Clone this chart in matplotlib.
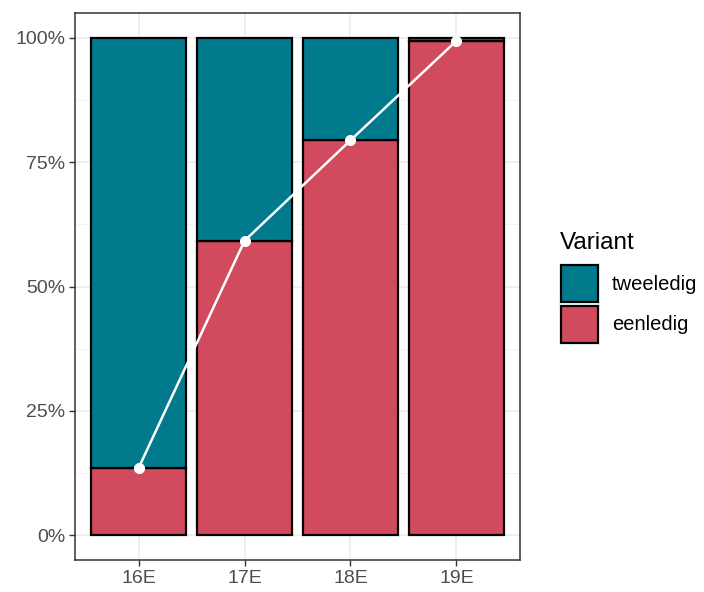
import numpy as np
import matplotlib
matplotlib.use("Agg")
import matplotlib.pyplot as plt
from matplotlib.patches import Rectangle
from matplotlib.ticker import MultipleLocator, FuncFormatter

# data
periods = ["16E", "17E", "18E", "19E"]
eenledig = [0.135, 0.592, 0.794, 0.994]
tweeledig = [1 - v for v in eenledig]

teal = "#007A8C"
red = "#D14A5E"
W, H = 704, 592

plt.rcParams["font.family"] = ["Liberation Sans", "DejaVu Sans"]

fig = plt.figure(figsize=(W / 100, H / 100), dpi=100)
ax = fig.add_axes([75 / W, 32 / H, 445 / W, 547 / H])

x = np.arange(1, len(periods) + 1)
ax.bar(x, eenledig, width=0.9, color=red, edgecolor="black", linewidth=1.6, zorder=3)
ax.bar(x, tweeledig, width=0.9, bottom=eenledig, color=teal, edgecolor="black",
       linewidth=1.6, zorder=3)
ax.plot(x, eenledig, color="white", linewidth=1.8, marker="o", markersize=7,
        zorder=4)

ax.set_xlim(0.4, 4.6)
ax.set_ylim(-0.05, 1.05)
ax.set_xticks(x)
ax.set_xticklabels(periods)
ax.yaxis.set_major_locator(MultipleLocator(0.25))
ax.yaxis.set_minor_locator(MultipleLocator(0.125))
ax.yaxis.set_major_formatter(FuncFormatter(lambda v, p: f"{v * 100:.0f}%"))

ax.grid(True, which="major", color="#EBEBEB", linewidth=1.1, zorder=0)
ax.grid(True, which="minor", axis="y", color="#F3F3F3", linewidth=0.6, zorder=0)
ax.tick_params(which="major", length=4, width=1, color="#333333",
               labelsize=14, labelcolor="#4D4D4D", pad=3)
ax.tick_params(which="minor", length=0)
for s in ax.spines.values():
    s.set_color("#333333")
    s.set_linewidth(1.1)

# legend, drawn by hand in figure pixels
fig.text(560 / W, 1 - 249 / H, "Variant", fontsize=17.5, ha="left",
         va="baseline", color="black")
legend_items = [("tweeledig", teal), ("eenledig", red)]
for i, (lab, col) in enumerate(legend_items):
    top = 265 + i * 41
    fig.patches.append(Rectangle((561 / W, 1 - (top + 37) / H), 37 / W, 37 / H,
                                 facecolor=col, edgecolor="black", linewidth=1.6,
                                 transform=fig.transFigure, figure=fig))
    fig.text(612 / W, 1 - (top + 19) / H, lab, fontsize=14.5, ha="left",
             va="center", color="black")

fig.savefig("out.png", dpi=100)
